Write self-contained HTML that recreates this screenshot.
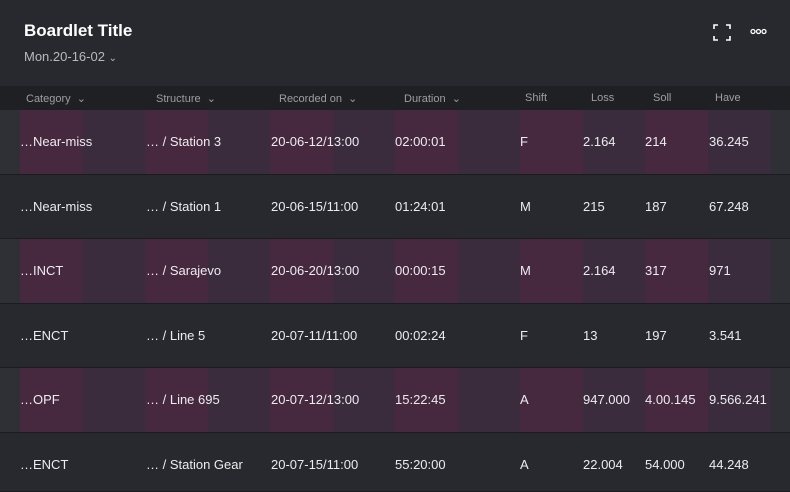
<!DOCTYPE html>
<html><head><meta charset="utf-8"><style>
*{margin:0;padding:0;box-sizing:border-box}
body{width:790px;height:492px;background:#28292e;font-family:"Liberation Sans",sans-serif;color:#e8e8ea;position:relative;overflow:hidden}
.a{position:absolute;white-space:nowrap}
.title{left:24px;top:21px;font-size:17px;font-weight:bold;color:#fff}
.sub{left:24px;top:49px;font-size:13px;color:#b8b9bd}
.hdr{left:0;top:86px;width:790px;height:24px;background:#1f2024}
.h{top:92px;font-size:11px;color:#9d9ea3}
.row{left:0;width:790px;border-bottom:1px solid #1b1c20}
.odd{background:#2f3036}
.s{position:absolute;top:0;bottom:0}
.p{background:#46293f}
.q{background:#3a2c3c}
.c{font-size:13px;color:#ececee}
</style></head><body>
<div class="a title">Boardlet Title</div>
<div class="a sub">Mon.20-16-02 <span style="font-size:10px">&#8964;</span></div>
<svg class="a" style="left:713px;top:24px" width="18" height="17" viewBox="0 0 18 17" fill="none" stroke="#fff" stroke-width="1.6"><path d="M1 5V1h4M13 1h4v4M17 12v4h-4M5 16H1v-4"/></svg>
<svg class="a" style="left:750px;top:28px" width="17" height="7" fill="none" stroke="#fff" stroke-width="1.3"><circle cx="3" cy="3.5" r="2"/><circle cx="8.5" cy="3.5" r="2"/><circle cx="14" cy="3.5" r="2"/></svg>
<div class="a hdr"></div>
<div class="a h" style="left:26px">Category &nbsp;&#8964;</div>
<div class="a h" style="left:156px">Structure &nbsp;&#8964;</div>
<div class="a h" style="left:279px">Recorded on &nbsp;&#8964;</div>
<div class="a h" style="left:404px">Duration &nbsp;&#8964;</div>
<div class="a h" style="left:525px">Shift</div>
<div class="a h" style="left:591px">Loss</div>
<div class="a h" style="left:653px">Soll</div>
<div class="a h" style="left:715px">Have</div>

<div id="rows"></div>
<script>
const data=[
["…Near-miss","… / Station 3","20-06-12/13:00","02:00:01","F","2.164","214","36.245"],
["…Near-miss","… / Station 1","20-06-15/11:00","01:24:01","M","215","187","67.248"],
["…INCT","… / Sarajevo","20-06-20/13:00","00:00:15","M","2.164","317","971"],
["…ENCT","… / Line 5","20-07-11/11:00","00:02:24","F","13","197","3.541"],
["…OPF","… / Line 695","20-07-12/13:00","15:22:45","A","947.000","4.00.145","9.566.241"],
["…ENCT","… / Station Gear","20-07-15/11:00","55:20:00","A","22.004","54.000","44.248"]];
const tops=[110,175,239,304,368,433];
const xs=[20,146,271,395,520,583,645,709];
let h="";
data.forEach((r,i)=>{
 const t=tops[i],ht=(i<5?tops[i+1]:492)-t;
 h+=`<div class="a row ${i%2==0?'odd':''}" style="top:${t}px;height:${ht}px">`;
 if(i%2==0){for(let k=0;k<12;k++){const x=20+k*62.5;h+=`<div class="s ${k%2?'q':'p'}" style="left:${x}px;width:63px"></div>`;}}
 h+=`</div>`;
 r.forEach((v,j)=>{h+=`<div class="a c" style="left:${xs[j]}px;top:${t+24}px">${v}</div>`;});
});
document.getElementById('rows').innerHTML=h;
</script>
</body></html>
